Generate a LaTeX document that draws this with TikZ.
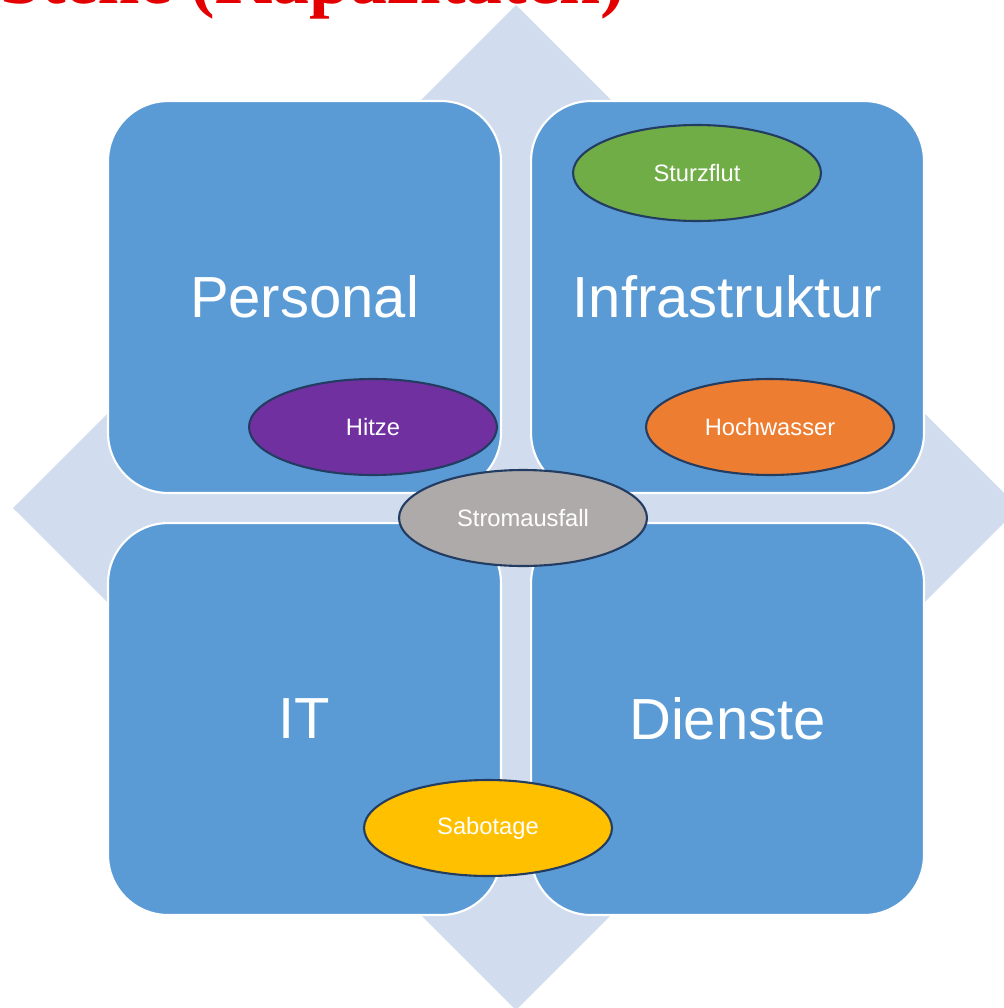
\documentclass[tikz,border=0pt]{standalone}
\usepackage{fontspec}
\setmainfont{Liberation Sans}
\newfontfamily\titlefont{Liberation Serif}
\usetikzlibrary{positioning,shapes.geometric}

\definecolor{boxblue}{RGB}{91,155,213}
\definecolor{diamondblue}{RGB}{209,221,238}
\definecolor{rimblue}{RGB}{35,60,98}
\definecolor{titlered}{RGB}{228,0,0}
\definecolor{riskgreen}{RGB}{112,173,71}
\definecolor{riskpurple}{RGB}{112,48,160}
\definecolor{riskorange}{RGB}{237,125,49}
\definecolor{riskgray}{RGB}{174,170,170}
\definecolor{riskgold}{RGB}{255,192,0}

\tikzset{
  field/.style={draw=white, line width=1.2pt, fill=boxblue, rounded corners=1.2cm,
    minimum width=7.86cm, minimum height=7.84cm, text=white,
    font=\fontsize{33}{40}\selectfont},
  risk/.style={ellipse, draw=rimblue, line width=1.2pt, minimum width=4.96cm,
    minimum height=1.92cm, text=white, font=\fontsize{13.5}{16}\selectfont}
}

\begin{document}
\begin{tikzpicture}[x=0.02cm, y=-0.02cm, node distance=0.56cm]
  \useasboundingbox (0,0) rectangle (1004,1008);
  % background diamond
  \fill[diamondblue] (516,5) -- (1019,508) -- (516,1010) -- (13,508) -- cycle;
  % title, cut off at the top
  \node(title)[anchor=base west, inner sep=0pt, text=titlered,
    font=\titlefont\bfseries\fontsize{42}{50}\selectfont] at (0,3)
    {Stelle (Kapazitäten)};
  % the four fields
  \node(personal)[field] at (304.5,297) {Personal};
  \node(infra)[field, right=of personal] {Infrastruktur};
  \node(it)[field, below=of personal] {IT};
  \node(dienste)[field, below=of infra] {Dienste};
  % risks
  \node(sturzflut)[risk, fill=riskgreen] at (697,173) {Sturzflut};
  \node(hitze)[risk, fill=riskpurple] at (373,427) {Hitze};
  \node(hochwasser)[risk, fill=riskorange] at (770,427) {Hochwasser};
  \node(strom)[risk, fill=riskgray] at (523,518) {Stromausfall};
  \node(sabotage)[risk, fill=riskgold] at (488,828) {Sabotage};
\end{tikzpicture}
\end{document}
